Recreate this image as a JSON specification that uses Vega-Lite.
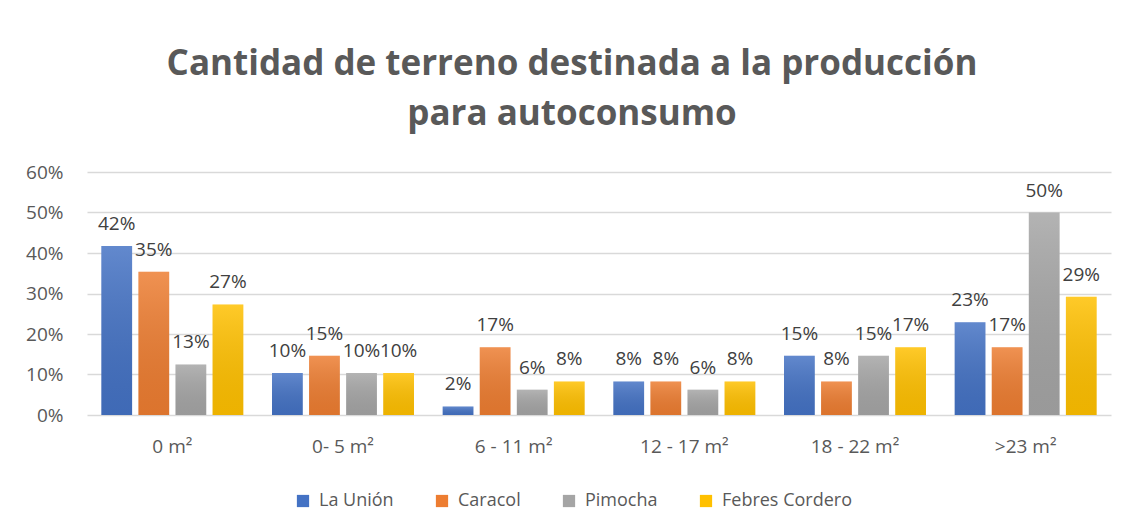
{
  "$schema": "https://vega.github.io/schema/vega-lite/v6.json",
  "autosize": "none",
  "width": 1024,
  "height": 243,
  "padding": {"left": 87, "top": 172, "right": 18, "bottom": 114},
  "background": "white",
  "title": {
    "text": ["Cantidad de terreno destinada a la producción", "para autoconsumo"],
    "font": "Open Sans",
    "fontSize": 35,
    "fontWeight": "bold",
    "color": "#595959",
    "anchor": "middle",
    "dx": -27,
    "baseline": "alphabetic",
    "lineHeight": 50,
    "offset": 3
  },
  "data": {
    "values": [
      {"cat": "0 m²", "serie": "La Unión", "v": 0.417},
      {"cat": "0 m²", "serie": "Caracol", "v": 0.354},
      {"cat": "0 m²", "serie": "Pimocha", "v": 0.125},
      {"cat": "0 m²", "serie": "Febres Cordero", "v": 0.273},
      {"cat": "0- 5 m²", "serie": "La Unión", "v": 0.104},
      {"cat": "0- 5 m²", "serie": "Caracol", "v": 0.146},
      {"cat": "0- 5 m²", "serie": "Pimocha", "v": 0.104},
      {"cat": "0- 5 m²", "serie": "Febres Cordero", "v": 0.104},
      {"cat": "6 - 11 m²", "serie": "La Unión", "v": 0.021},
      {"cat": "6 - 11 m²", "serie": "Caracol", "v": 0.167},
      {"cat": "6 - 11 m²", "serie": "Pimocha", "v": 0.0625},
      {"cat": "6 - 11 m²", "serie": "Febres Cordero", "v": 0.083},
      {"cat": "12 - 17 m²", "serie": "La Unión", "v": 0.083},
      {"cat": "12 - 17 m²", "serie": "Caracol", "v": 0.083},
      {"cat": "12 - 17 m²", "serie": "Pimocha", "v": 0.0625},
      {"cat": "12 - 17 m²", "serie": "Febres Cordero", "v": 0.083},
      {"cat": "18 - 22 m²", "serie": "La Unión", "v": 0.146},
      {"cat": "18 - 22 m²", "serie": "Caracol", "v": 0.083},
      {"cat": "18 - 22 m²", "serie": "Pimocha", "v": 0.146},
      {"cat": "18 - 22 m²", "serie": "Febres Cordero", "v": 0.167},
      {"cat": ">23  m²", "serie": "La Unión", "v": 0.229},
      {"cat": ">23  m²", "serie": "Caracol", "v": 0.167},
      {"cat": ">23  m²", "serie": "Pimocha", "v": 0.5},
      {"cat": ">23  m²", "serie": "Febres Cordero", "v": 0.292}
    ]
  },
  "encoding": {
    "x": {
      "field": "cat",
      "type": "nominal",
      "sort": null,
      "scale": {"paddingInner": 0.168, "paddingOuter": 0.084},
      "axis": {
        "title": null,
        "labelAngle": 0,
        "ticks": false,
        "domain": false,
        "labelFont": "Open Sans",
        "labelFontSize": 19,
        "labelColor": "#595959",
        "labelPadding": 22
      }
    },
    "xOffset": {
      "field": "serie",
      "type": "nominal",
      "sort": ["La Unión", "Caracol", "Pimocha", "Febres Cordero"],
      "scale": {"paddingInner": 0.17, "paddingOuter": 0}
    },
    "y": {
      "field": "v",
      "type": "quantitative",
      "scale": {"domain": [0, 0.6], "nice": false},
      "axis": {
        "title": null,
        "values": [0, 0.1, 0.2, 0.3, 0.4, 0.5, 0.6],
        "format": ".0%",
        "ticks": false,
        "domain": false,
        "labelFont": "Open Sans",
        "labelFontSize": 19,
        "labelColor": "#595959",
        "labelPadding": 24,
        "gridColor": "#D9D9D9",
        "gridWidth": 1.5
      }
    }
  },
  "layer": [
    {
      "mark": {"type": "bar"},
      "encoding": {
        "color": {
          "field": "serie",
          "type": "nominal",
          "sort": ["La Unión", "Caracol", "Pimocha", "Febres Cordero"],
          "scale": {
            "domain": ["La Unión", "Caracol", "Pimocha", "Febres Cordero"],
            "range": ["#4472C4", "#ED7D31", "#A5A5A5", "#FFC000"]
          },
          "legend": {
            "title": null,
            "orient": "none",
            "direction": "horizontal",
            "legendX": 207,
            "legendY": 320,
            "symbolType": "square",
            "symbolSize": 150,
            "symbolStrokeWidth": 0,
            "labelFont": "Open Sans",
            "labelFontSize": 18,
            "labelColor": "#595959",
            "labelOffset": 7,
            "columnPadding": 39
          }
        }
      }
    },
    {
      "mark": {
        "type": "bar",
        "color": {
          "gradient": "linear",
          "x1": 0, "y1": 0, "x2": 0, "y2": 1,
          "stops": [
            {"offset": 0, "color": "rgba(255,255,255,0.16)"},
            {"offset": 1, "color": "rgba(0,0,0,0.07)"}
          ]
        }
      }
    },
    {
      "mark": {
        "type": "text",
        "font": "Open Sans",
        "fontSize": 19,
        "color": "#404040",
        "baseline": "middle",
        "dy": -22
      },
      "encoding": {
        "text": {"field": "v", "type": "quantitative", "format": ".0%"}
      }
    }
  ],
  "config": {
    "view": {"stroke": null}
  }
}
